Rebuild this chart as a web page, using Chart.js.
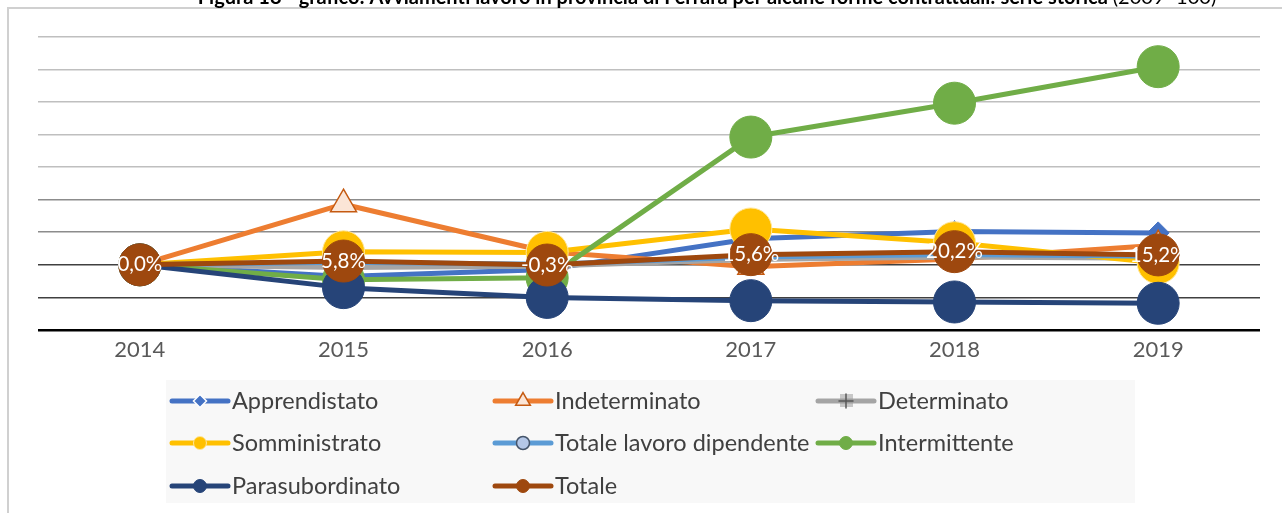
<!DOCTYPE html>
<html lang="it">
<head>
    <meta charset="utf-8">
    <title>Avviamenti lavoro Ferrara</title>
    <script src="https://cdn.jsdelivr.net/npm/chart.js"></script>
    <style>
        body { margin: 0; background: #fff; }
    </style>
</head>
<body>
    <canvas id="grafico" width="1282" height="513"></canvas>
    <script>
        // dati (variazione % rispetto al 2014)
        const anni = ['2014', '2015', '2016', '2017', '2018', '2019'];
        const apprendistato = [0, -18, -7, 40, 51, 49];
        const indeterminato = [0, 93, 20, -3, 9, 30];
        const determinato = [0, -4, -2, 8, 12, 10];
        const somministrato = [0, 20, 19, 55, 34, 3];
        const totaleDipendente = [0, 4, 1, 12, 16, 13];
        const intermittente = [0, -23, -20, 196, 248, 304];
        const parasubordinato = [0, -35, -50, -55, -57, -59];
        const totale = [0, 5.8, -0.3, 15.6, 20.2, 15.2];
        const yMin = -100, yMax = 350, yStep = 50;

        const titolo = 'Figura 18 - grafico: Avviamenti lavoro in provincia di Ferrara per alcune forme contrattuali: serie storica ';
        const titoloFine = '(2009=100)';

        function serie(label, data, colore, punto) {
            return Object.assign({
                label: label,
                data: data,
                borderColor: colore,
                backgroundColor: colore,
                borderWidth: 5,
                borderCapStyle: 'round',
                borderJoinStyle: 'round',
                tension: 0,
                pointBackgroundColor: colore,
                pointBorderColor: colore,
                pointBorderWidth: 1,
                pointRadius: 21
            }, punto);
        }

        const datasets = [
            serie('Apprendistato', apprendistato, '#4472C4', { pointStyle: 'rectRot', pointRadius: 11 }),
            serie('Indeterminato', indeterminato, '#ED7D31', { pointStyle: 'triangle', pointRadius: 15, pointBackgroundColor: '#FBE5D6', pointBorderColor: '#C55A11', pointBorderWidth: 1.5 }),
            serie('Determinato', determinato, '#A5A5A5', { pointStyle: 'cross', pointRadius: 8, pointBorderColor: '#595959', pointBorderWidth: 1.5 }),
            serie('Somministrato', somministrato, '#FFC000', { pointBorderColor: '#FFE699' }),
            serie('Totale lavoro dipendente', totaleDipendente, '#5B9BD5', { pointRadius: 8, pointBackgroundColor: '#B4C7E7', pointBorderColor: '#44546A', pointBorderWidth: 1.5 }),
            serie('Intermittente', intermittente, '#70AD47', {}),
            serie('Parasubordinato', parasubordinato, '#264478', {}),
            serie('Totale', totale, '#9E480E', {})
        ];
        // l'ultima serie sta sopra le altre
        datasets.forEach((d, i) => { d.order = datasets.length - i; });

        // cornice, titolo e riquadro legenda
        const sfondo = {
            id: 'sfondo',
            beforeDraw(chart) {
                const c = chart.ctx;
                c.save();
                c.strokeStyle = '#D0D0D0';
                c.lineWidth = 2;
                c.beginPath();
                c.moveTo(8, 513);
                c.lineTo(8, 8);
                c.lineTo(1282, 8);
                c.stroke();

                c.fillStyle = '#F8F8F8';
                c.fillRect(166, 380, 969, 123);

                c.fillStyle = '#000';
                c.textBaseline = 'alphabetic';
                c.textAlign = 'left';
                c.font = 'bold 20px Lato';
                const w1 = c.measureText(titolo).width;
                c.font = '20px Lato';
                const w2 = c.measureText(titoloFine).width;
                const x0 = 707 - (w1 + w2) / 2;
                c.font = 'bold 20px Lato';
                c.fillText(titolo, x0, 4);
                c.font = '20px Lato';
                c.fillText(titoloFine, x0 + w1, 4);
                c.restore();
            }
        };

        // legenda disegnata a tre colonne
        const legenda = {
            id: 'legenda',
            afterDraw(chart) {
                const c = chart.ctx;
                const colonne = [172, 495, 818];
                const righe = [401, 443, 486];
                c.save();
                chart.data.datasets.forEach((d, i) => {
                    const x = colonne[i % 3];
                    const y = righe[Math.floor(i / 3)];
                    c.strokeStyle = d.borderColor;
                    c.lineWidth = 5;
                    c.lineCap = 'round';
                    c.beginPath();
                    c.moveTo(x, y);
                    c.lineTo(x + 56, y);
                    c.stroke();

                    c.fillStyle = d.pointBackgroundColor;
                    c.strokeStyle = d.pointBorderColor;
                    c.lineWidth = d.pointStyle === 'rectRot' ? 1.5 : d.pointBorderWidth;
                    if (d.pointStyle === 'rectRot') c.strokeStyle = '#fff';
                    if (d.pointStyle === 'cross') {
                        c.fillStyle = 'rgba(150,150,150,0.5)';
                        c.fillRect(x + 22, y - 7, 13, 13);
                    }
                    let r = 6.5;
                    if (d.pointStyle === 'triangle') r = 8.5;
                    if (d.pointStyle === 'cross') r = 7;
                    Chart.helpers.drawPoint(c, {
                        pointStyle: d.pointStyle || 'circle',
                        radius: r,
                        rotation: 0,
                        borderWidth: c.lineWidth
                    }, x + 28, y);

                    c.fillStyle = '#404040';
                    c.font = '23.5px Lato';
                    c.textAlign = 'left';
                    c.textBaseline = 'middle';
                    c.fillText(d.label, x + 60, y);
                });
                c.restore();
            }
        };

        // etichette della serie Totale
        const etichette = {
            id: 'etichette',
            afterDatasetsDraw(chart) {
                const i = chart.data.datasets.length - 1;
                const meta = chart.getDatasetMeta(i);
                const c = chart.ctx;
                c.save();
                c.fillStyle = '#fff';
                c.font = '20.5px Lato';
                c.textAlign = 'center';
                c.textBaseline = 'middle';
                meta.data.forEach((p, k) => {
                    const v = chart.data.datasets[i].data[k];
                    c.fillText(v.toFixed(1).replace('.', ',') + '%', p.x, p.y);
                });
                c.restore();
            }
        };

        function coloreGriglia(v) {
            if (v === yMin) return '#000';
            if (v === 0 || v === -50) return '#404040';
            if (v === 50 || v === 100) return '#8C8C8C';
            return '#BFBFBF';
        }

        const ctx = document.getElementById('grafico').getContext('2d');
        const grafico = new Chart(ctx, {
            type: 'line',
            data: { labels: anni, datasets: datasets },
            plugins: [sfondo, etichette, legenda],
            options: {
                responsive: false,
                animation: false,
                layout: { padding: { left: 38, right: 18, top: 36.7, bottom: 151 } },
                plugins: {
                    legend: { display: false },
                    title: { display: false },
                    tooltip: { enabled: false }
                },
                scales: {
                    x: {
                        offset: true,
                        grid: { display: false, drawTicks: false },
                        border: { display: false },
                        ticks: { color: '#595959', font: { family: 'Lato', size: 22 }, padding: 7 },
                        afterFit: (s) => { s.height = 32; }
                    },
                    y: {
                        min: yMin,
                        max: yMax,
                        ticks: { display: false, stepSize: yStep },
                        border: { display: false },
                        grid: {
                            drawTicks: false,
                            color: (c) => coloreGriglia(c.tick.value),
                            lineWidth: (c) => c.tick.value === yMin ? 2.5 : 1.5
                        },
                        afterFit: (s) => { s.width = 0; }
                    }
                }
            }
        });
    </script>
</body>
</html>
